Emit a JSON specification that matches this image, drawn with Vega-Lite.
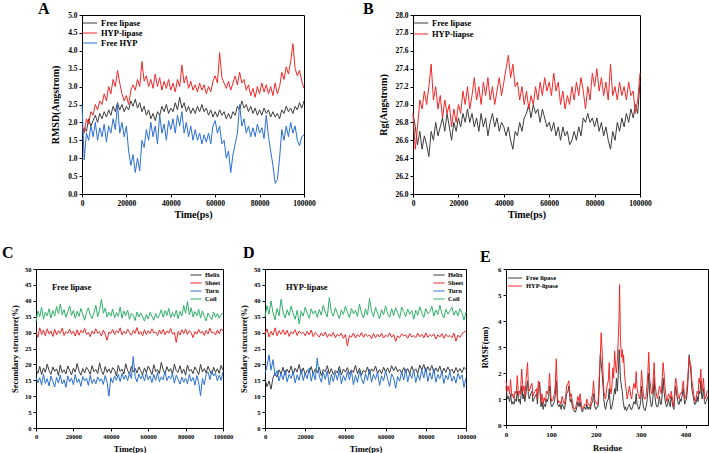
{
"$schema": "https://vega.github.io/schema/vega-lite/v6.json",
"padding": {"left": 1, "top": 0, "right": 0, "bottom": 0},
"background": "white",
"config": {
 "font": "Liberation Serif",
 "view": {"stroke": "#000", "strokeWidth": 1},
 "axis": {"grid": false, "domainColor": "#000", "tickColor": "#000", "labelColor": "#000", "titleColor": "#000", "labelFontWeight": "bold", "titleFontWeight": "bold", "labelFont": "Liberation Serif", "titleFont": "Liberation Serif", "tickSize": 3, "labelPadding": 2, "labelOverlap": false},
 "legend": {"labelFont": "Liberation Serif", "labelFontWeight": "bold", "labelColor": "#000", "padding": 0, "symbolStrokeWidth": 1.5, "rowPadding": 0},
 "title": {"font": "Liberation Serif", "fontWeight": "bold", "color": "#000"},
 "line": {"strokeWidth": 1}
},
"resolve": {"scale": {"color": "independent"}, "legend": {"color": "independent"}},
"datasets": {
 "rmsd": [
{"t":0,"f":1.7,"h":1.9,"p":2.5},{"t":1000,"f":1.85,"h":1.7,"p":0.95},{"t":2000,"f":1.75,"h":2.1,"p":1.7},{"t":3000,"f":2.1,"h":1.95,"p":1.5},{"t":4000,"f":1.9,"h":2.3,"p":1.9},{"t":5000,"f":2.05,"h":2.2,"p":1.6},{"t":6000,"f":2.2,"h":2.5,"p":2.0},{"t":7000,"f":2.0,"h":2.35,"p":1.5},{"t":8000,"f":2.25,"h":2.6,"p":1.85},{"t":9000,"f":2.1,"h":2.5,"p":1.6},
{"t":10000,"f":2.3,"h":2.8,"p":1.95},{"t":11000,"f":2.15,"h":2.6,"p":1.45},{"t":12000,"f":2.35,"h":3.0,"p":1.9},{"t":13000,"f":2.2,"h":2.8,"p":1.7},{"t":14000,"f":2.45,"h":3.2,"p":2.1},{"t":15000,"f":2.3,"h":3.0,"p":1.8},{"t":16000,"f":2.55,"h":3.45,"p":2.5},{"t":17000,"f":2.35,"h":3.1,"p":1.7},{"t":18000,"f":2.5,"h":2.8,"p":2.0},{"t":19000,"f":2.3,"h":2.6,"p":1.6},
{"t":20000,"f":2.45,"h":2.75,"p":1.9},{"t":21000,"f":2.35,"h":2.5,"p":1.2},{"t":22000,"f":2.6,"h":2.9,"p":0.8},{"t":23000,"f":2.45,"h":3.05,"p":1.1},{"t":24000,"f":2.65,"h":2.9,"p":0.6},{"t":25000,"f":2.4,"h":3.2,"p":1.0},{"t":26000,"f":2.55,"h":3.0,"p":0.65},{"t":27000,"f":2.3,"h":3.7,"p":1.5},{"t":28000,"f":2.45,"h":3.15,"p":1.3},{"t":29000,"f":2.2,"h":3.3,"p":1.8},
{"t":30000,"f":2.35,"h":3.0,"p":1.5},{"t":31000,"f":2.1,"h":3.2,"p":2.0},{"t":32000,"f":2.25,"h":2.95,"p":1.6},{"t":33000,"f":2.05,"h":3.35,"p":1.9},{"t":34000,"f":2.3,"h":3.0,"p":1.4},{"t":35000,"f":2.2,"h":3.25,"p":2.2},{"t":36000,"f":2.45,"h":2.9,"p":1.7},{"t":37000,"f":2.3,"h":3.15,"p":1.95},{"t":38000,"f":2.5,"h":2.95,"p":1.5},{"t":39000,"f":2.25,"h":3.2,"p":2.05},
{"t":40000,"f":2.4,"h":2.9,"p":1.8},{"t":41000,"f":2.3,"h":3.1,"p":2.1},{"t":42000,"f":2.55,"h":2.85,"p":1.7},{"t":43000,"f":2.35,"h":3.2,"p":2.2},{"t":44000,"f":2.7,"h":3.0,"p":1.9},{"t":45000,"f":2.4,"h":3.6,"p":2.3},{"t":46000,"f":2.55,"h":3.1,"p":1.7},{"t":47000,"f":2.3,"h":3.3,"p":2.0},{"t":48000,"f":2.45,"h":2.95,"p":1.6},{"t":49000,"f":2.25,"h":3.15,"p":1.9},
{"t":50000,"f":2.4,"h":2.9,"p":1.5},{"t":51000,"f":2.25,"h":3.05,"p":1.8},{"t":52000,"f":2.45,"h":2.85,"p":1.5},{"t":53000,"f":2.3,"h":3.1,"p":1.7},{"t":54000,"f":2.5,"h":2.9,"p":1.4},{"t":55000,"f":2.3,"h":3.05,"p":1.65},{"t":56000,"f":2.4,"h":2.8,"p":1.45},{"t":57000,"f":2.2,"h":3.0,"p":1.7},{"t":58000,"f":2.35,"h":2.85,"p":1.4},{"t":59000,"f":2.15,"h":3.15,"p":1.9},
{"t":60000,"f":2.3,"h":3.3,"p":2.05},{"t":61000,"f":2.15,"h":3.1,"p":1.7},{"t":62000,"f":2.35,"h":3.95,"p":1.9},{"t":63000,"f":2.2,"h":3.25,"p":1.4},{"t":64000,"f":2.3,"h":3.1,"p":1.5},{"t":65000,"f":2.1,"h":2.95,"p":1.0},{"t":66000,"f":2.25,"h":3.15,"p":1.2},{"t":67000,"f":2.1,"h":2.9,"p":0.6},{"t":68000,"f":2.3,"h":3.1,"p":1.1},{"t":69000,"f":2.2,"h":3.3,"p":1.4},
{"t":70000,"f":2.45,"h":3.05,"p":1.7},{"t":71000,"f":2.35,"h":3.4,"p":2.5},{"t":72000,"f":2.6,"h":3.1,"p":1.9},{"t":73000,"f":2.4,"h":3.2,"p":2.1},{"t":74000,"f":2.5,"h":2.9,"p":1.7},{"t":75000,"f":2.3,"h":3.05,"p":1.9},{"t":76000,"f":2.45,"h":2.75,"p":1.6},{"t":77000,"f":2.25,"h":2.95,"p":1.85},{"t":78000,"f":2.4,"h":2.7,"p":1.6},{"t":79000,"f":2.2,"h":3.0,"p":1.95},
{"t":80000,"f":2.35,"h":2.8,"p":1.7},{"t":81000,"f":2.2,"h":3.1,"p":1.85},{"t":82000,"f":2.4,"h":2.85,"p":1.55},{"t":83000,"f":2.25,"h":3.05,"p":2.2},{"t":84000,"f":2.35,"h":2.8,"p":1.6},{"t":85000,"f":2.15,"h":3.0,"p":1.2},{"t":86000,"f":2.3,"h":2.75,"p":0.8},{"t":87000,"f":2.15,"h":3.1,"p":0.3},{"t":88000,"f":2.25,"h":2.8,"p":0.4},{"t":89000,"f":2.1,"h":3.0,"p":1.0},
{"t":90000,"f":2.35,"h":3.4,"p":1.8},{"t":91000,"f":2.25,"h":3.2,"p":1.5},{"t":92000,"f":2.45,"h":3.55,"p":1.9},{"t":93000,"f":2.3,"h":3.35,"p":1.6},{"t":94000,"f":2.4,"h":3.7,"p":2.0},{"t":95000,"f":2.25,"h":4.2,"p":1.7},{"t":96000,"f":2.45,"h":3.5,"p":1.9},{"t":97000,"f":2.35,"h":3.3,"p":1.5},{"t":98000,"f":2.55,"h":3.45,"p":1.35},{"t":99000,"f":2.4,"h":3.15,"p":1.6},
{"t":100000,"f":2.6,"h":2.95,"p":1.65}
 ],
 "rg": [
{"t":0,"f":26.9,"h":26.9},{"t":1000,"f":26.75,"h":26.5},{"t":2000,"f":26.55,"h":26.75},{"t":3000,"f":26.7,"h":27.05},{"t":4000,"f":26.5,"h":26.95},{"t":5000,"f":26.65,"h":27.15},{"t":6000,"f":26.55,"h":27.0},{"t":7000,"f":26.42,"h":27.2},{"t":8000,"f":26.7,"h":27.45},{"t":9000,"f":26.6,"h":27.05},
{"t":10000,"f":26.8,"h":27.2},{"t":11000,"f":26.65,"h":26.95},{"t":12000,"f":26.75,"h":27.1},{"t":13000,"f":26.85,"h":26.85},{"t":14000,"f":26.7,"h":27.05},{"t":15000,"f":26.9,"h":26.9},{"t":16000,"f":26.75,"h":27.0},{"t":17000,"f":26.6,"h":26.75},{"t":18000,"f":26.8,"h":26.95},{"t":19000,"f":26.7,"h":26.8},
{"t":20000,"f":26.85,"h":27.0},{"t":21000,"f":26.75,"h":26.9},{"t":22000,"f":26.9,"h":27.15},{"t":23000,"f":26.8,"h":27.0},{"t":24000,"f":26.95,"h":27.2},{"t":25000,"f":26.8,"h":26.95},{"t":26000,"f":26.9,"h":27.1},{"t":27000,"f":26.75,"h":27.3},{"t":28000,"f":26.85,"h":27.05},{"t":29000,"f":26.7,"h":27.2},
{"t":30000,"f":26.9,"h":27.0},{"t":31000,"f":26.75,"h":27.25},{"t":32000,"f":26.85,"h":27.1},{"t":33000,"f":26.65,"h":27.3},{"t":34000,"f":26.8,"h":27.05},{"t":35000,"f":26.9,"h":27.2},{"t":36000,"f":26.75,"h":27.0},{"t":37000,"f":26.85,"h":27.15},{"t":38000,"f":26.7,"h":27.3},{"t":39000,"f":26.8,"h":27.1},
{"t":40000,"f":26.75,"h":27.25},{"t":41000,"f":26.65,"h":27.4},{"t":42000,"f":26.75,"h":27.55},{"t":43000,"f":26.6,"h":27.3},{"t":44000,"f":26.5,"h":27.45},{"t":45000,"f":26.7,"h":27.2},{"t":46000,"f":26.65,"h":27.25},{"t":47000,"f":26.8,"h":27.05},{"t":48000,"f":26.7,"h":27.2},{"t":49000,"f":26.85,"h":27.0},
{"t":50000,"f":26.9,"h":27.15},{"t":51000,"f":27.0,"h":26.95},{"t":52000,"f":26.85,"h":27.1},{"t":53000,"f":27.0,"h":27.0},{"t":54000,"f":26.9,"h":27.2},{"t":55000,"f":26.95,"h":27.05},{"t":56000,"f":26.8,"h":27.25},{"t":57000,"f":26.95,"h":27.1},{"t":58000,"f":26.85,"h":27.3},{"t":59000,"f":26.75,"h":27.15},
{"t":60000,"f":26.8,"h":27.25},{"t":61000,"f":26.7,"h":27.1},{"t":62000,"f":26.8,"h":27.35},{"t":63000,"f":26.65,"h":27.15},{"t":64000,"f":26.75,"h":27.25},{"t":65000,"f":26.6,"h":27.0},{"t":66000,"f":26.75,"h":27.15},{"t":67000,"f":26.65,"h":26.95},{"t":68000,"f":26.7,"h":27.1},{"t":69000,"f":26.55,"h":27.0},
{"t":70000,"f":26.6,"h":27.2},{"t":71000,"f":26.7,"h":27.05},{"t":72000,"f":26.6,"h":27.25},{"t":73000,"f":26.75,"h":27.1},{"t":74000,"f":26.65,"h":27.3},{"t":75000,"f":26.85,"h":27.15},{"t":76000,"f":26.8,"h":26.95},{"t":77000,"f":26.9,"h":27.2},{"t":78000,"f":26.8,"h":27.05},{"t":79000,"f":26.85,"h":27.35},
{"t":80000,"f":26.75,"h":27.2},{"t":81000,"f":26.85,"h":27.4},{"t":82000,"f":26.7,"h":27.15},{"t":83000,"f":26.8,"h":27.3},{"t":84000,"f":26.65,"h":27.1},{"t":85000,"f":26.75,"h":27.25},{"t":86000,"f":26.6,"h":27.05},{"t":87000,"f":26.5,"h":27.45},{"t":88000,"f":26.7,"h":27.1},{"t":89000,"f":26.6,"h":27.2},
{"t":90000,"f":26.8,"h":27.05},{"t":91000,"f":26.7,"h":27.25},{"t":92000,"f":26.85,"h":27.1},{"t":93000,"f":26.75,"h":27.2},{"t":94000,"f":26.9,"h":27.05},{"t":95000,"f":26.8,"h":27.25},{"t":96000,"f":26.95,"h":27.1},{"t":97000,"f":26.85,"h":27.15},{"t":98000,"f":27.0,"h":26.9},{"t":99000,"f":26.9,"h":27.05},
{"t":100000,"f":27.25,"h":27.35}
 ],
 "ssc": [
{"t":0,"a":18.5,"b":30.2,"c":16.0,"d":33.5},{"t":1000,"a":17.2,"b":28.5,"c":14.2,"d":36.8},{"t":2000,"a":19.4,"b":31.5,"c":15.8,"d":35.0},{"t":3000,"a":16.8,"b":29.4,"c":13.5,"d":37.9},{"t":4000,"a":18.9,"b":30.8,"c":16.9,"d":34.2},{"t":5000,"a":17.5,"b":29.0,"c":14.0,"d":36.5},{"t":6000,"a":20.1,"b":31.2,"c":15.5,"d":35.3},{"t":7000,"a":18.0,"b":29.6,"c":13.2,"d":37.5},{"t":8000,"a":16.9,"b":30.5,"c":16.3,"d":34.6},{"t":9000,"a":19.2,"b":28.8,"c":14.6,"d":36.9},
{"t":10000,"a":17.8,"b":31.0,"c":12.9,"d":35.2},{"t":11000,"a":18.6,"b":29.3,"c":15.9,"d":38.2},{"t":12000,"a":16.5,"b":30.6,"c":14.1,"d":36.0},{"t":13000,"a":19.8,"b":29.8,"c":16.7,"d":39.0},{"t":14000,"a":17.4,"b":31.4,"c":13.8,"d":35.6},{"t":15000,"a":18.3,"b":29.1,"c":15.2,"d":37.2},{"t":16000,"a":17.0,"b":30.3,"c":12.8,"d":34.8},{"t":17000,"a":19.5,"b":29.7,"c":16.4,"d":36.6},{"t":18000,"a":18.1,"b":31.1,"c":14.5,"d":38.4},{"t":19000,"a":16.7,"b":29.5,"c":15.7,"d":35.4},
{"t":20000,"a":18.8,"b":30.4,"c":13.6,"d":37.0},{"t":21000,"a":17.6,"b":28.9,"c":16.8,"d":34.5},{"t":22000,"a":20.3,"b":30.9,"c":14.3,"d":36.7},{"t":23000,"a":17.9,"b":29.2,"c":15.4,"d":35.1},{"t":24000,"a":16.6,"b":30.7,"c":13.1,"d":37.6},{"t":25000,"a":18.7,"b":29.9,"c":16.2,"d":35.8},{"t":26000,"a":17.3,"b":31.3,"c":14.8,"d":33.9},{"t":27000,"a":19.1,"b":29.4,"c":15.6,"d":36.3},{"t":28000,"a":18.2,"b":30.1,"c":13.4,"d":37.8},{"t":29000,"a":16.9,"b":28.7,"c":16.6,"d":35.5},
{"t":30000,"a":19.6,"b":30.5,"c":14.0,"d":34.4},{"t":31000,"a":17.7,"b":29.6,"c":15.3,"d":36.2},{"t":32000,"a":18.4,"b":31.2,"c":13.9,"d":38.6},{"t":33000,"a":17.1,"b":29.8,"c":16.1,"d":35.0},{"t":34000,"a":20.5,"b":30.3,"c":14.7,"d":37.3},{"t":35000,"a":18.0,"b":28.9,"c":15.5,"d":40.5},{"t":36000,"a":16.8,"b":30.8,"c":13.7,"d":36.1},{"t":37000,"a":19.3,"b":29.5,"c":16.5,"d":37.7},{"t":38000,"a":17.5,"b":27.6,"c":14.4,"d":34.9},{"t":39000,"a":18.6,"b":30.2,"c":10.0,"d":36.4},
{"t":40000,"a":17.2,"b":29.7,"c":15.8,"d":35.2},{"t":41000,"a":19.0,"b":31.0,"c":14.2,"d":37.4},{"t":42000,"a":18.3,"b":29.4,"c":16.4,"d":34.7},{"t":43000,"a":16.4,"b":30.6,"c":15.0,"d":36.3},{"t":44000,"a":19.7,"b":29.9,"c":16.9,"d":35.1},{"t":45000,"a":17.8,"b":31.5,"c":14.6,"d":38.0},{"t":46000,"a":18.5,"b":29.3,"c":17.2,"d":34.5},{"t":47000,"a":17.0,"b":30.4,"c":15.3,"d":36.8},{"t":48000,"a":20.2,"b":29.6,"c":16.6,"d":35.3},{"t":49000,"a":18.1,"b":31.1,"c":14.9,"d":37.1},
{"t":50000,"a":16.9,"b":30.0,"c":17.4,"d":34.2},{"t":51000,"a":19.4,"b":29.2,"c":15.6,"d":36.0},{"t":52000,"a":17.6,"b":30.7,"c":22.5,"d":35.4},{"t":53000,"a":18.8,"b":29.8,"c":16.2,"d":33.8},{"t":54000,"a":17.3,"b":31.6,"c":14.5,"d":36.5},{"t":55000,"a":19.2,"b":29.5,"c":17.0,"d":34.9},{"t":56000,"a":18.0,"b":30.3,"c":15.4,"d":36.2},{"t":57000,"a":16.7,"b":29.0,"c":16.7,"d":35.0},{"t":58000,"a":18.9,"b":30.9,"c":14.8,"d":33.6},{"t":59000,"a":17.4,"b":29.4,"c":17.3,"d":35.7},
{"t":60000,"a":19.5,"b":30.6,"c":15.1,"d":34.3},{"t":61000,"a":18.2,"b":29.7,"c":16.4,"d":36.4},{"t":62000,"a":16.8,"b":31.2,"c":14.3,"d":35.1},{"t":63000,"a":19.9,"b":29.9,"c":16.8,"d":33.9},{"t":64000,"a":17.7,"b":30.2,"c":15.0,"d":36.0},{"t":65000,"a":18.4,"b":29.1,"c":17.5,"d":34.6},{"t":66000,"a":17.1,"b":30.8,"c":14.6,"d":35.5},{"t":67000,"a":20.6,"b":29.6,"c":16.1,"d":37.2},{"t":68000,"a":18.3,"b":31.0,"c":15.2,"d":34.8},{"t":69000,"a":17.0,"b":29.3,"c":17.8,"d":36.9},
{"t":70000,"a":19.3,"b":30.5,"c":14.9,"d":35.4},{"t":71000,"a":17.8,"b":29.8,"c":16.3,"d":37.6},{"t":72000,"a":18.7,"b":31.3,"c":15.5,"d":34.7},{"t":73000,"a":16.9,"b":29.5,"c":17.1,"d":36.3},{"t":74000,"a":20.1,"b":30.1,"c":14.1,"d":35.0},{"t":75000,"a":18.0,"b":26.9,"c":16.6,"d":37.0},{"t":76000,"a":17.5,"b":30.4,"c":15.3,"d":34.4},{"t":77000,"a":19.6,"b":29.2,"c":13.8,"d":36.7},{"t":78000,"a":17.2,"b":30.9,"c":16.0,"d":35.2},{"t":79000,"a":18.5,"b":29.7,"c":14.4,"d":38.5},
{"t":80000,"a":16.6,"b":31.1,"c":15.7,"d":36.1},{"t":81000,"a":19.8,"b":29.4,"c":13.9,"d":39.8},{"t":82000,"a":17.9,"b":30.6,"c":16.8,"d":35.6},{"t":83000,"a":18.4,"b":29.9,"c":14.7,"d":37.8},{"t":84000,"a":17.1,"b":28.4,"c":15.9,"d":34.9},{"t":85000,"a":19.2,"b":30.3,"c":13.5,"d":36.6},{"t":86000,"a":18.1,"b":29.5,"c":16.5,"d":35.3},{"t":87000,"a":16.8,"b":31.0,"c":14.2,"d":37.3},{"t":88000,"a":20.0,"b":29.8,"c":10.2,"d":34.6},{"t":89000,"a":17.6,"b":30.4,"c":15.6,"d":36.8},
{"t":90000,"a":18.7,"b":29.1,"c":13.6,"d":35.1},{"t":91000,"a":17.3,"b":30.7,"c":16.9,"d":33.7},{"t":92000,"a":19.4,"b":29.6,"c":17.6,"d":36.2},{"t":93000,"a":18.0,"b":31.4,"c":15.2,"d":35.0},{"t":94000,"a":16.9,"b":29.9,"c":18.0,"d":34.1},{"t":95000,"a":19.1,"b":30.2,"c":16.4,"d":36.4},{"t":96000,"a":17.5,"b":29.3,"c":17.2,"d":34.8},{"t":97000,"a":18.6,"b":30.8,"c":14.8,"d":36.0},{"t":98000,"a":17.2,"b":29.7,"c":16.6,"d":34.5},{"t":99000,"a":19.7,"b":31.2,"c":15.0,"d":35.6},
{"t":100000,"a":18.2,"b":30.5,"c":17.7,"d":36.2}
 ],
 "ssd": [
{"t":0,"a":15.5,"b":29.5,"c":17.0,"d":35.0},{"t":1000,"a":13.0,"b":31.2,"c":19.5,"d":38.5},{"t":2000,"a":14.8,"b":28.6,"c":23.0,"d":35.8},{"t":3000,"a":12.2,"b":30.4,"c":18.2,"d":40.0},{"t":4000,"a":15.9,"b":29.2,"c":21.5,"d":36.2},{"t":5000,"a":17.2,"b":31.5,"c":16.4,"d":34.0},{"t":6000,"a":16.0,"b":29.0,"c":18.0,"d":37.6},{"t":7000,"a":18.3,"b":30.6,"c":14.8,"d":35.3},{"t":8000,"a":17.0,"b":29.5,"c":17.3,"d":40.5},{"t":9000,"a":19.1,"b":30.9,"c":15.2,"d":36.4},
{"t":10000,"a":16.6,"b":29.3,"c":18.2,"d":34.6},{"t":11000,"a":18.5,"b":30.7,"c":14.5,"d":37.2},{"t":12000,"a":17.3,"b":28.8,"c":16.9,"d":35.4},{"t":13000,"a":19.5,"b":30.3,"c":15.6,"d":38.3},{"t":14000,"a":16.9,"b":29.6,"c":17.8,"d":36.0},{"t":15000,"a":18.8,"b":30.9,"c":14.2,"d":34.2},{"t":16000,"a":17.6,"b":29.1,"c":16.7,"d":37.0},{"t":17000,"a":20.0,"b":30.5,"c":15.0,"d":32.8},{"t":18000,"a":17.1,"b":29.7,"c":18.4,"d":36.7},{"t":19000,"a":18.9,"b":30.1,"c":14.9,"d":35.2},
{"t":20000,"a":16.8,"b":29.0,"c":17.2,"d":38.0},{"t":21000,"a":18.2,"b":30.4,"c":15.5,"d":36.1},{"t":22000,"a":17.5,"b":29.3,"c":18.9,"d":34.5},{"t":23000,"a":19.3,"b":30.8,"c":14.7,"d":37.5},{"t":24000,"a":16.9,"b":28.7,"c":17.5,"d":35.8},{"t":25000,"a":18.6,"b":30.0,"c":15.1,"d":36.9},{"t":26000,"a":17.4,"b":29.4,"c":22.0,"d":34.8},{"t":27000,"a":19.1,"b":28.6,"c":16.3,"d":37.3},{"t":28000,"a":16.5,"b":29.9,"c":14.4,"d":35.5},{"t":29000,"a":18.4,"b":28.9,"c":17.6,"d":38.6},
{"t":30000,"a":17.7,"b":30.2,"c":15.3,"d":36.3},{"t":31000,"a":19.6,"b":28.5,"c":18.0,"d":34.9},{"t":32000,"a":17.0,"b":29.6,"c":13.5,"d":41.0},{"t":33000,"a":18.7,"b":28.8,"c":16.8,"d":36.5},{"t":34000,"a":16.8,"b":30.1,"c":14.6,"d":35.2},{"t":35000,"a":18.1,"b":28.4,"c":17.4,"d":37.8},{"t":36000,"a":17.3,"b":29.5,"c":15.0,"d":36.0},{"t":37000,"a":19.4,"b":28.9,"c":18.3,"d":34.4},{"t":38000,"a":16.7,"b":29.8,"c":13.8,"d":37.1},{"t":39000,"a":18.5,"b":28.2,"c":16.5,"d":35.7},
{"t":40000,"a":17.6,"b":29.4,"c":14.9,"d":38.2},{"t":41000,"a":19.0,"b":25.8,"c":17.7,"d":36.4},{"t":42000,"a":16.9,"b":29.1,"c":15.2,"d":34.7},{"t":43000,"a":18.3,"b":28.6,"c":18.1,"d":37.6},{"t":44000,"a":17.5,"b":29.9,"c":13.6,"d":35.9},{"t":45000,"a":19.7,"b":28.3,"c":16.6,"d":37.0},{"t":46000,"a":17.1,"b":29.4,"c":14.3,"d":35.1},{"t":47000,"a":18.8,"b":28.7,"c":17.9,"d":38.9},{"t":48000,"a":16.6,"b":30.0,"c":15.5,"d":36.2},{"t":49000,"a":18.2,"b":28.5,"c":13.9,"d":34.6},
{"t":50000,"a":17.4,"b":29.6,"c":17.1,"d":37.4},{"t":51000,"a":19.2,"b":28.8,"c":15.0,"d":35.5},{"t":52000,"a":16.9,"b":29.3,"c":18.5,"d":40.8},{"t":53000,"a":18.6,"b":28.1,"c":14.4,"d":36.7},{"t":54000,"a":17.8,"b":29.7,"c":16.9,"d":35.0},{"t":55000,"a":19.5,"b":28.4,"c":15.3,"d":37.9},{"t":56000,"a":17.2,"b":29.5,"c":17.6,"d":36.1},{"t":57000,"a":18.4,"b":28.6,"c":13.4,"d":34.3},{"t":58000,"a":17.0,"b":29.8,"c":16.4,"d":37.2},{"t":59000,"a":19.1,"b":28.3,"c":14.8,"d":35.6},
{"t":60000,"a":17.6,"b":29.2,"c":18.0,"d":38.4},{"t":61000,"a":18.9,"b":28.7,"c":15.4,"d":36.0},{"t":62000,"a":17.3,"b":29.9,"c":13.1,"d":34.8},{"t":63000,"a":19.6,"b":28.5,"c":17.0,"d":37.5},{"t":64000,"a":18.0,"b":29.4,"c":15.8,"d":35.3},{"t":65000,"a":19.3,"b":27.2,"c":12.5,"d":37.8},{"t":66000,"a":17.7,"b":29.0,"c":16.2,"d":36.3},{"t":67000,"a":18.5,"b":28.4,"c":14.7,"d":34.5},{"t":68000,"a":17.2,"b":29.6,"c":17.8,"d":38.0},{"t":69000,"a":19.0,"b":28.9,"c":15.1,"d":36.6},
{"t":70000,"a":17.5,"b":29.3,"c":18.6,"d":35.0},{"t":71000,"a":18.7,"b":28.2,"c":14.5,"d":37.4},{"t":72000,"a":17.0,"b":29.7,"c":17.3,"d":35.8},{"t":73000,"a":19.4,"b":28.6,"c":15.6,"d":36.9},{"t":74000,"a":17.8,"b":29.1,"c":18.2,"d":34.2},{"t":75000,"a":18.6,"b":28.4,"c":14.3,"d":37.0},{"t":76000,"a":17.1,"b":29.8,"c":16.9,"d":35.4},{"t":77000,"a":19.8,"b":28.7,"c":15.0,"d":38.1},{"t":78000,"a":18.2,"b":29.5,"c":18.4,"d":36.2},{"t":79000,"a":20.0,"b":28.3,"c":15.7,"d":34.7},
{"t":80000,"a":17.6,"b":29.9,"c":19.0,"d":37.6},{"t":81000,"a":19.3,"b":28.5,"c":14.6,"d":35.9},{"t":82000,"a":18.0,"b":29.4,"c":17.5,"d":36.5},{"t":83000,"a":19.7,"b":28.8,"c":15.3,"d":38.3},{"t":84000,"a":17.4,"b":29.6,"c":18.6,"d":35.2},{"t":85000,"a":18.9,"b":28.0,"c":14.4,"d":37.1},{"t":86000,"a":17.7,"b":29.3,"c":16.8,"d":35.7},{"t":87000,"a":19.5,"b":28.6,"c":15.5,"d":38.6},{"t":88000,"a":17.1,"b":29.7,"c":17.9,"d":36.0},{"t":89000,"a":18.8,"b":28.2,"c":14.0,"d":34.6},
{"t":90000,"a":17.5,"b":29.5,"c":16.6,"d":37.3},{"t":91000,"a":19.2,"b":28.7,"c":15.2,"d":35.8},{"t":92000,"a":17.8,"b":29.1,"c":17.8,"d":36.8},{"t":93000,"a":18.5,"b":28.4,"c":14.7,"d":38.0},{"t":94000,"a":17.2,"b":29.8,"c":16.3,"d":35.5},{"t":95000,"a":19.0,"b":27.3,"c":14.1,"d":36.9},{"t":96000,"a":17.6,"b":29.2,"c":17.2,"d":35.3},{"t":97000,"a":18.7,"b":28.5,"c":15.4,"d":37.5},{"t":98000,"a":17.4,"b":29.6,"c":16.7,"d":36.2},{"t":99000,"a":19.1,"b":30.2,"c":12.8,"d":33.9},
{"t":100000,"a":18.3,"b":30.5,"c":15.8,"d":36.4}
 ],
 "rmsf": [
{"r":0,"f":1.5,"h":1.7},{"r":3,"f":1.0,"h":1.3},{"r":5,"f":1.1,"h":1.5},{"r":8,"f":0.9,"h":1.2},{"r":10,"f":1.2,"h":1.75},{"r":13,"f":0.8,"h":1.1},{"r":15,"f":0.9,"h":1.2},{"r":18,"f":0.8,"h":1.0},{"r":20,"f":1.0,"h":1.3},{"r":23,"f":0.9,"h":1.2},
{"r":25,"f":1.3,"h":1.9},{"r":28,"f":0.9,"h":1.1},{"r":30,"f":1.0,"h":1.3},{"r":32,"f":0.8,"h":1.2},{"r":35,"f":1.5,"h":2.15},{"r":38,"f":1.0,"h":1.3},{"r":40,"f":1.2,"h":1.5},{"r":42,"f":0.9,"h":1.1},{"r":45,"f":1.3,"h":1.8},{"r":48,"f":1.7,"h":2.4},
{"r":50,"f":1.1,"h":1.4},{"r":52,"f":1.0,"h":1.3},{"r":55,"f":1.2,"h":1.5},{"r":58,"f":1.3,"h":1.6},{"r":60,"f":0.9,"h":1.1},{"r":62,"f":1.0,"h":1.2},{"r":65,"f":1.1,"h":1.3},{"r":68,"f":1.2,"h":1.4},{"r":70,"f":0.8,"h":1.0},{"r":72,"f":1.4,"h":1.7},
{"r":75,"f":1.65,"h":1.5},{"r":78,"f":0.7,"h":0.9},{"r":80,"f":0.9,"h":1.2},{"r":83,"f":0.6,"h":0.8},{"r":85,"f":0.8,"h":1.05},{"r":88,"f":0.7,"h":0.9},{"r":90,"f":1.0,"h":1.3},{"r":92,"f":0.9,"h":1.2},{"r":95,"f":1.1,"h":1.4},{"r":97,"f":1.5,"h":2.0},
{"r":100,"f":0.8,"h":1.1},{"r":102,"f":0.7,"h":0.9},{"r":105,"f":0.8,"h":1.0},{"r":108,"f":0.9,"h":1.2},{"r":110,"f":1.2,"h":1.6},{"r":112,"f":1.7,"h":2.55},{"r":115,"f":0.8,"h":1.0},{"r":118,"f":0.7,"h":0.85},{"r":120,"f":0.8,"h":0.9},{"r":123,"f":0.6,"h":0.8},
{"r":125,"f":0.8,"h":1.1},{"r":128,"f":0.7,"h":0.9},{"r":130,"f":0.6,"h":0.8},{"r":133,"f":0.9,"h":1.1},{"r":135,"f":1.2,"h":1.5},{"r":138,"f":1.3,"h":1.6},{"r":140,"f":1.5,"h":1.7},{"r":143,"f":0.9,"h":1.1},{"r":145,"f":1.0,"h":1.2},{"r":148,"f":0.7,"h":0.9},
{"r":150,"f":0.6,"h":0.7},{"r":153,"f":0.5,"h":0.6},{"r":155,"f":0.5,"h":0.65},{"r":158,"f":0.7,"h":0.9},{"r":160,"f":0.9,"h":1.1},{"r":163,"f":0.7,"h":0.9},{"r":165,"f":0.9,"h":1.2},{"r":168,"f":0.6,"h":0.8},{"r":170,"f":0.5,"h":0.6},{"r":173,"f":0.6,"h":0.7},
{"r":175,"f":0.7,"h":0.8},{"r":178,"f":0.6,"h":0.75},{"r":180,"f":0.8,"h":1.0},{"r":183,"f":0.6,"h":0.8},{"r":185,"f":0.7,"h":0.8},{"r":188,"f":0.6,"h":0.7},{"r":190,"f":0.8,"h":1.0},{"r":193,"f":0.9,"h":1.2},{"r":195,"f":1.2,"h":1.7},{"r":198,"f":0.7,"h":0.9},
{"r":200,"f":0.6,"h":0.9},{"r":203,"f":0.7,"h":0.8},{"r":205,"f":0.7,"h":0.8},{"r":207,"f":1.2,"h":1.6},{"r":210,"f":2.7,"h":2.6},{"r":212,"f":2.4,"h":3.55},{"r":215,"f":1.8,"h":2.5},{"r":218,"f":1.0,"h":1.3},{"r":220,"f":0.7,"h":1.1},{"r":222,"f":0.6,"h":1.0},
{"r":225,"f":0.9,"h":1.5},{"r":228,"f":1.0,"h":1.7},{"r":230,"f":1.4,"h":2.4},{"r":232,"f":0.8,"h":1.4},{"r":234,"f":0.6,"h":1.2},{"r":236,"f":0.7,"h":1.5},{"r":238,"f":0.9,"h":2.2},{"r":240,"f":1.1,"h":1.8},{"r":242,"f":1.4,"h":2.85},{"r":244,"f":1.2,"h":2.3},
{"r":246,"f":1.8,"h":2.0},{"r":248,"f":1.3,"h":2.5},{"r":250,"f":1.9,"h":3.25},{"r":252,"f":2.9,"h":4.2},{"r":253,"f":2.6,"h":5.4},{"r":255,"f":1.8,"h":3.3},{"r":257,"f":1.5,"h":2.6},{"r":259,"f":1.3,"h":2.9},{"r":261,"f":0.9,"h":2.4},{"r":262,"f":0.8,"h":2.7},
{"r":264,"f":0.6,"h":2.0},{"r":266,"f":0.7,"h":1.6},{"r":268,"f":0.55,"h":1.3},{"r":270,"f":0.6,"h":1.0},{"r":272,"f":0.7,"h":1.2},{"r":275,"f":0.8,"h":1.5},{"r":278,"f":0.6,"h":1.1},{"r":280,"f":0.6,"h":1.0},{"r":282,"f":0.7,"h":1.3},{"r":285,"f":0.9,"h":1.6},
{"r":288,"f":0.8,"h":1.4},{"r":290,"f":1.2,"h":2.05},{"r":292,"f":0.8,"h":1.4},{"r":294,"f":0.7,"h":1.2},{"r":296,"f":0.6,"h":1.1},{"r":298,"f":0.7,"h":1.0},{"r":300,"f":0.9,"h":1.4},{"r":302,"f":1.5,"h":2.1},{"r":304,"f":1.0,"h":1.6},{"r":306,"f":0.7,"h":1.2},
{"r":308,"f":0.6,"h":1.0},{"r":310,"f":0.55,"h":1.0},{"r":312,"f":0.7,"h":1.1},{"r":314,"f":0.9,"h":1.5},{"r":316,"f":1.3,"h":2.0},{"r":318,"f":2.0,"h":2.8},{"r":320,"f":1.2,"h":1.8},{"r":322,"f":0.9,"h":1.5},{"r":324,"f":0.7,"h":1.2},{"r":326,"f":0.8,"h":1.2},
{"r":328,"f":1.2,"h":1.8},{"r":330,"f":1.8,"h":2.4},{"r":332,"f":1.1,"h":1.6},{"r":334,"f":0.8,"h":1.3},{"r":336,"f":0.7,"h":1.1},{"r":338,"f":0.7,"h":1.0},{"r":340,"f":0.9,"h":1.3},{"r":342,"f":1.1,"h":1.5},{"r":344,"f":0.8,"h":1.3},{"r":346,"f":0.8,"h":1.2},
{"r":348,"f":1.2,"h":1.8},{"r":350,"f":1.8,"h":2.4},{"r":352,"f":1.3,"h":2.0},{"r":354,"f":1.0,"h":1.5},{"r":356,"f":0.8,"h":1.2},{"r":358,"f":0.7,"h":0.9},{"r":360,"f":0.8,"h":1.0},{"r":362,"f":1.0,"h":1.2},{"r":364,"f":0.8,"h":1.1},{"r":366,"f":0.7,"h":1.0},
{"r":368,"f":1.1,"h":1.3},{"r":370,"f":0.9,"h":1.1},{"r":372,"f":0.7,"h":0.9},{"r":374,"f":0.6,"h":0.7},{"r":376,"f":1.1,"h":1.4},{"r":378,"f":1.5,"h":1.8},{"r":380,"f":1.2,"h":1.6},{"r":382,"f":1.0,"h":1.3},{"r":384,"f":0.8,"h":1.1},{"r":386,"f":0.8,"h":1.0},
{"r":388,"f":1.0,"h":1.2},{"r":390,"f":0.9,"h":1.2},{"r":392,"f":1.1,"h":1.3},{"r":395,"f":1.4,"h":1.7},{"r":398,"f":0.8,"h":1.0},{"r":400,"f":0.9,"h":1.1},{"r":402,"f":1.0,"h":1.2},{"r":404,"f":1.3,"h":1.6},{"r":406,"f":1.9,"h":2.1},{"r":408,"f":2.7,"h":2.6},
{"r":410,"f":2.3,"h":2.4},{"r":412,"f":2.0,"h":2.3},{"r":414,"f":1.4,"h":1.7},{"r":416,"f":1.2,"h":1.5},{"r":418,"f":1.0,"h":1.2},{"r":420,"f":0.8,"h":1.0},{"r":422,"f":0.8,"h":0.9},{"r":424,"f":0.9,"h":1.1},{"r":426,"f":1.1,"h":1.3},{"r":428,"f":0.9,"h":1.2},
{"r":430,"f":1.3,"h":1.8},{"r":432,"f":1.2,"h":1.6},{"r":434,"f":1.7,"h":2.15},{"r":436,"f":1.1,"h":1.4},{"r":437,"f":1.0,"h":1.3},{"r":440,"f":1.4,"h":1.8},{"r":442,"f":0.9,"h":1.2},{"r":444,"f":0.8,"h":1.0},{"r":446,"f":0.9,"h":1.1},{"r":448,"f":1.0,"h":1.3},
{"r":450,"f":1.1,"h":1.3}
 ]
},
"vconcat": [
 {"hconcat": [
  {"width": 1, "height": 1, "view": {"stroke": null}, "data": {"values": []}, "mark": "point"},
  {"hconcat": [
   {"width": 222, "height": 179,
    "title": {"text": "A", "anchor": "start", "frame": "group", "dx": -44, "dy": 19, "offset": 0, "baseline": "alphabetic", "fontSize": 16},
    "data": {"name": "rmsd"},
    "transform": [{"fold": ["f", "h", "p"], "as": ["s", "v"]}],
    "mark": {"type": "line", "strokeWidth": 1},
    "encoding": {
     "x": {"field": "t", "type": "quantitative", "scale": {"domain": [0, 100000], "nice": false}, "axis": {"values": [0, 20000, 40000, 60000, 80000, 100000], "format": "d", "title": "Time(ps)", "labelFontSize": 7.5, "titleFontSize": 10, "titlePadding": 2.5, "labelFlush": false, "labelOverlap": false}},
     "y": {"field": "v", "type": "quantitative", "scale": {"domain": [0, 5], "nice": false}, "axis": {"values": [0, 0.5, 1, 1.5, 2, 2.5, 3, 3.5, 4, 4.5, 5], "format": ".1f", "title": "RMSD(Angstrom)", "labelFontSize": 7.5, "titleFontSize": 10, "titlePadding": 7, "labelOverlap": false}},
     "color": {"field": "s", "type": "nominal", "scale": {"domain": ["f", "h", "p"], "range": ["#3c3c3c", "#f02828", "#2a6fd6"]},
      "legend": {"title": null, "orient": "top-left", "offset": 3, "labelFontSize": 8.5, "symbolType": "M-1.6,0H1.6", "symbolSize": 81, "labelOffset": 6, "labelExpr": "datum.label == 'f' ? 'Free lipase' : datum.label == 'h' ? 'HYP-lipase' : 'Free HYP'"}}
    }
   },
   {"width": 227, "height": 179,
    "title": {"text": "B", "anchor": "start", "frame": "group", "dx": -50, "dy": 19, "offset": 0, "baseline": "alphabetic", "fontSize": 16},
    "data": {"name": "rg"},
    "transform": [{"fold": ["f", "h"], "as": ["s", "v"]}],
    "mark": {"type": "line", "strokeWidth": 1},
    "encoding": {
     "x": {"field": "t", "type": "quantitative", "scale": {"domain": [0, 100000], "nice": false}, "axis": {"values": [0, 20000, 40000, 60000, 80000, 100000], "format": "d", "title": "Time(ps)", "labelFontSize": 7.5, "titleFontSize": 10, "titlePadding": 2.5, "labelFlush": false, "labelOverlap": false}},
     "y": {"field": "v", "type": "quantitative", "scale": {"domain": [26, 28], "nice": false, "zero": false}, "axis": {"values": [26, 26.2, 26.4, 26.6, 26.8, 27, 27.2, 27.4, 27.6, 27.8, 28], "format": ".1f", "title": "Rg(Angstrom)", "labelFontSize": 7.5, "titleFontSize": 10, "titlePadding": 6, "labelOverlap": false}},
     "color": {"field": "s", "type": "nominal", "scale": {"domain": ["f", "h"], "range": ["#3c3c3c", "#f02828"]},
      "legend": {"title": null, "orient": "top-left", "offset": 3, "labelFontSize": 8.5, "symbolType": "M-1.6,0H1.6", "symbolSize": 81, "labelOffset": 6, "rowPadding": 1, "labelExpr": "datum.label == 'f' ? 'Free lipase' : 'HYP-liapse'"}}
    }
   }
  ], "spacing": 46,
  "resolve": {"scale": {"color": "independent"}, "legend": {"color": "independent"}}}
 ], "spacing": 0,
 "resolve": {"scale": {"color": "independent"}, "legend": {"color": "independent"}}},
 {"hconcat": [
  {"hconcat": [
   {"width": 187, "height": 159,
    "title": {"text": "C", "anchor": "start", "frame": "group", "dx": -34, "dy": 8, "offset": 0, "baseline": "alphabetic", "fontSize": 16},
    "encoding": {
     "x": {"field": "t", "type": "quantitative", "scale": {"domain": [0, 100000], "nice": false}, "axis": {"values": [0, 20000, 40000, 60000, 80000, 100000], "format": "d", "title": "Time(ps)", "labelFontSize": 6.5, "titleFontSize": 8.5, "titlePadding": 5, "labelFlush": false, "labelOverlap": false}},
     "y": {"field": "v", "type": "quantitative", "scale": {"domain": [0, 50], "nice": false}, "axis": {"values": [0, 5, 10, 15, 20, 25, 30, 35, 40, 45, 50], "title": "Secondary structure(%)", "labelFontSize": 6.5, "titleFontSize": 8.5, "titlePadding": 5, "labelOverlap": false}}
    },
    "layer": [
     {"data": {"name": "ssc"},
      "transform": [{"fold": ["a", "b", "c", "d"], "as": ["s", "v"]}],
      "mark": {"type": "line", "strokeWidth": 1},
      "encoding": {
       "color": {"field": "s", "type": "nominal", "scale": {"domain": ["a", "b", "c", "d"], "range": ["#3c3c3c", "#f02828", "#2a6fd6", "#2fb06a"]},
        "legend": {"title": null, "orient": "top-right", "offset": 2, "labelFontSize": 6.5, "symbolType": "M-1.6,0H1.6", "symbolSize": 49, "labelOffset": 5, "labelExpr": "datum.label == 'a' ? 'Helix' : datum.label == 'b' ? 'Sheet' : datum.label == 'c' ? 'Turn' : 'Coil'"}}
      }
     },
     {"data": {"values": [{"t": 8500, "v": 44.3, "label": "Free lipase"}]},
      "mark": {"type": "text", "align": "left", "baseline": "middle", "fontWeight": "bold", "fontSize": 8.5, "font": "Liberation Serif", "color": "#000"},
      "encoding": {"text": {"field": "label"}}}
    ]
   },
   {"width": 201, "height": 159,
    "title": {"text": "D", "anchor": "start", "frame": "group", "dx": -22, "dy": 8, "offset": 0, "baseline": "alphabetic", "fontSize": 16},
    "encoding": {
     "x": {"field": "t", "type": "quantitative", "scale": {"domain": [0, 100000], "nice": false}, "axis": {"values": [0, 20000, 40000, 60000, 80000, 100000], "format": "d", "title": "Time(ps)", "labelFontSize": 6.5, "titleFontSize": 8.5, "titlePadding": 5, "labelFlush": false, "labelOverlap": false}},
     "y": {"field": "v", "type": "quantitative", "scale": {"domain": [0, 50], "nice": false}, "axis": {"values": [0, 5, 10, 15, 20, 25, 30, 35, 40, 45, 50], "title": "Secondary structure(%)", "labelFontSize": 6.5, "titleFontSize": 8.5, "titlePadding": 5, "labelOverlap": false}}
    },
    "layer": [
     {"data": {"name": "ssd"},
      "transform": [{"fold": ["a", "b", "c", "d"], "as": ["s", "v"]}],
      "mark": {"type": "line", "strokeWidth": 1},
      "encoding": {
       "color": {"field": "s", "type": "nominal", "scale": {"domain": ["a", "b", "c", "d"], "range": ["#3c3c3c", "#f02828", "#2a6fd6", "#2fb06a"]},
        "legend": {"title": null, "orient": "top-right", "offset": 2, "labelFontSize": 6.5, "symbolType": "M-1.6,0H1.6", "symbolSize": 49, "labelOffset": 5, "labelExpr": "datum.label == 'a' ? 'Helix' : datum.label == 'b' ? 'Sheet' : datum.label == 'c' ? 'Turn' : 'Coil'"}}
      }
     },
     {"data": {"values": [{"t": 10400, "v": 44.3, "label": "HYP-lipase"}]},
      "mark": {"type": "text", "align": "left", "baseline": "middle", "fontWeight": "bold", "fontSize": 8.5, "font": "Liberation Serif", "color": "#000"},
      "encoding": {"text": {"field": "label"}}}
    ]
   }
  ], "spacing": 5,
  "resolve": {"scale": {"color": "independent"}, "legend": {"color": "independent"}}},
  {"width": 202, "height": 156,
   "title": {"text": "E", "anchor": "start", "frame": "group", "dx": -26, "dy": 13, "offset": 0, "baseline": "alphabetic", "fontSize": 16},
   "data": {"name": "rmsf"},
   "transform": [{"fold": ["f", "h"], "as": ["s", "v"]}],
   "mark": {"type": "line", "strokeWidth": 1},
   "encoding": {
    "x": {"field": "r", "type": "quantitative", "scale": {"domain": [0, 450], "nice": false}, "axis": {"values": [0, 100, 200, 300, 400], "title": "Residue", "labelFontSize": 7, "titleFontSize": 8.5, "titlePadding": 6, "labelFlush": false, "labelOverlap": false}},
    "y": {"field": "v", "type": "quantitative", "scale": {"domain": [0, 6], "nice": false}, "axis": {"values": [0, 1, 2, 3, 4, 5, 6], "title": "RMSF(nm)", "labelFontSize": 7, "titleFontSize": 8.5, "titlePadding": 8, "labelOverlap": false}},
    "color": {"field": "s", "type": "nominal", "scale": {"domain": ["f", "h"], "range": ["#3c3c3c", "#f02828"]},
     "legend": {"title": null, "orient": "top-left", "offset": 5, "labelFontSize": 6.5, "symbolType": "M-2,0H2", "symbolSize": 49, "labelOffset": 7, "labelExpr": "datum.label == 'f' ? 'Free lipase' : 'HYP-lipase'"}}
   }
  }
 ], "spacing": 2,
 "resolve": {"scale": {"color": "independent"}, "legend": {"color": "independent"}}}
],
"spacing": 24
}
